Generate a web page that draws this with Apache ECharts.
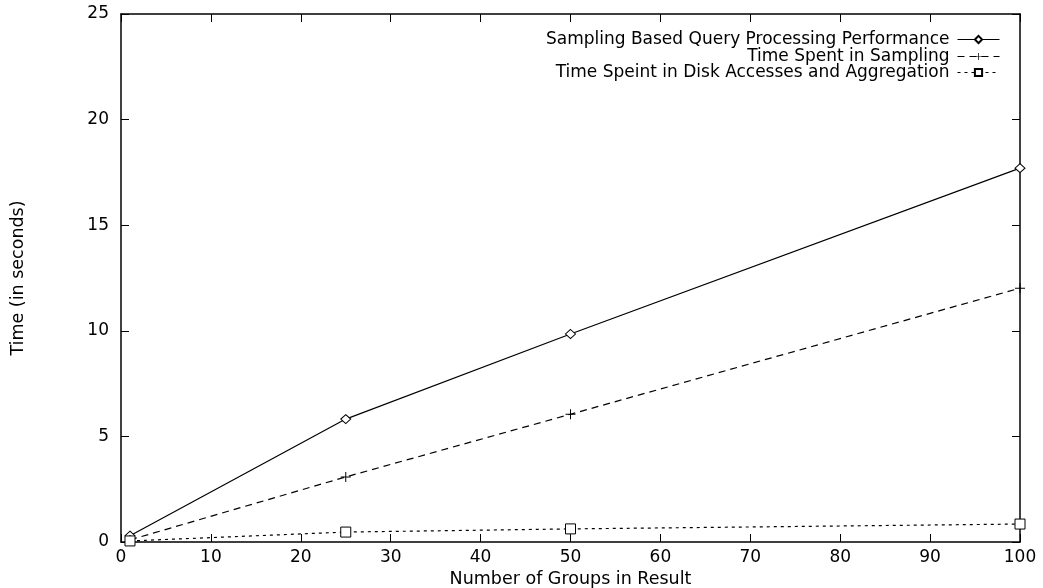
<!DOCTYPE html>
<html>
<head>
<meta charset="UTF-8">
<title>Sampling query timing</title>
<style>
  html, body { margin: 0; padding: 0; background: #fff; }
  #main { width: 1043px; height: 588px; }
</style>
</head>
<body>
<div id="main"></div>
<script src="https://cdn.jsdelivr.net/npm/echarts@6/dist/echarts.min.js"></script>
<script>
// data
var groups = [1, 25, 50, 100];
var totalTime = [0.3, 5.82, 9.85, 17.7];
var samplingTime = [0.1, 3.08, 6.05, 12.02];
var diskTime = [0.05, 0.47, 0.62, 0.85];
var seriesNames = [
    'Sampling Based Query Processing Performance',
    'Time Spent in Sampling',
    'Time Speint in Disk Accesses and Aggregation'
];

var font = 'DejaVu Sans, Liberation Sans, sans-serif';

function pairs(ys) {
    return groups.map(function (g, i) { return [g, ys[i]]; });
}

var plusPath = 'path://M4.5,0H5.5V4.5H10V5.5H5.5V10H4.5V5.5H0V4.5H4.5Z';

var baseAxis = {
    axisLine: { show: true, onZero: false, lineStyle: { color: '#000', width: 1.5 } },
    axisTick: { show: true, inside: true, length: 8, lineStyle: { color: '#000', width: 1 } },
    splitLine: { show: false }
};

// one legend per series so each row is right aligned like gnuplot's key
function legendFor(name, top) {
    return {
        data: [name],
        right: 43,
        top: top,
        orient: 'vertical',
        align: 'right',
        itemWidth: 42,
        itemHeight: 9,
        itemGap: 0,
        padding: 0,
        selectedMode: false,
        lineStyle: { width: 1 },
        textStyle: { fontFamily: font, fontSize: 17, color: '#000', padding: [0, 3, 0, 0] }
    };
}

var chart = echarts.init(document.getElementById('main'));

chart.setOption({
    backgroundColor: '#fff',
    animation: false,
    grid: { left: 121, right: 23, top: 14, bottom: 46, outerBoundsMode: 'none', containLabel: false },
    legend: [
        legendFor(seriesNames[0], 31),
        legendFor(seriesNames[1], 48),
        legendFor(seriesNames[2], 64)
    ],
    xAxis: [
        Object.assign({}, baseAxis, {
            type: 'value', min: 0, max: 100, interval: 10,
            name: 'Number of Groups in Result',
            nameLocation: 'middle',
            nameGap: 28,
            nameTextStyle: { fontFamily: font, fontSize: 17.5, color: '#000' },
            axisLabel: { fontFamily: font, fontSize: 17, color: '#000', margin: 7 }
        }),
        Object.assign({}, baseAxis, {
            type: 'value', min: 0, max: 100, interval: 10, position: 'top',
            axisLabel: { show: false }
        })
    ],
    yAxis: [
        Object.assign({}, baseAxis, {
            type: 'value', min: 0, max: 25, interval: 5,
            name: 'Time (in seconds)',
            nameLocation: 'middle',
            nameGap: 94,
            nameTextStyle: { fontFamily: font, fontSize: 17.5, color: '#000' },
            axisLabel: { fontFamily: font, fontSize: 17, color: '#000', margin: 12 }
        }),
        Object.assign({}, baseAxis, {
            type: 'value', min: 0, max: 25, interval: 5, position: 'right',
            axisLabel: { show: false }
        })
    ],
    series: [
        {
            name: seriesNames[0],
            type: 'line',
            data: pairs(totalTime),
            symbol: 'diamond',
            symbolSize: [10, 9],
            lineStyle: { color: '#000', width: 1.2, type: 'solid' },
            itemStyle: { color: '#fff', borderColor: '#000', borderWidth: 1 }
        },
        {
            name: seriesNames[1],
            type: 'line',
            data: pairs(samplingTime),
            symbol: plusPath,
            symbolSize: 10,
            lineStyle: { color: '#000', width: 1.2, type: [7, 5] },
            itemStyle: { color: '#000' }
        },
        {
            name: seriesNames[2],
            type: 'line',
            data: pairs(diskTime),
            symbol: 'rect',
            symbolSize: 10,
            lineStyle: { color: '#000', width: 1.2, type: [3, 4] },
            itemStyle: { color: '#fff', borderColor: '#000', borderWidth: 1 }
        }
    ]
});
</script>
</body>
</html>
